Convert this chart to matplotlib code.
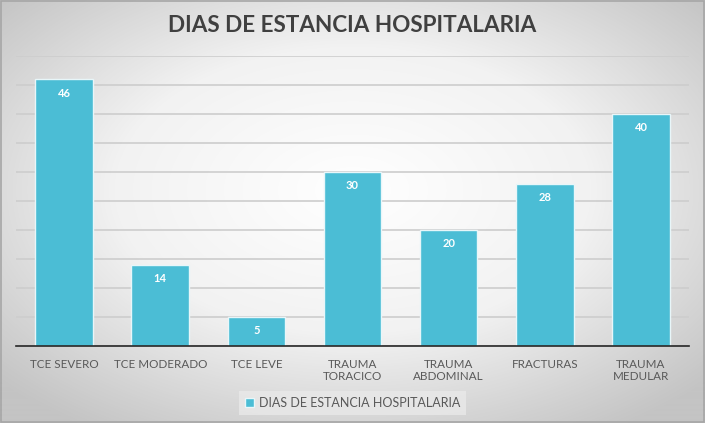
import numpy as np
import matplotlib
matplotlib.use("Agg")
import matplotlib.pyplot as plt
from matplotlib.colors import LinearSegmentedColormap
from matplotlib.patches import Rectangle

categories = ["TCE SEVERO", "TCE MODERADO", "TCE LEVE", "TRAUMA\nTORACICO",
              "TRAUMA\nABDOMINAL", "FRACTURAS", "TRAUMA\nMEDULAR"]
values = [46, 14, 5, 30, 20, 28, 40]
series_name = "DIAS DE ESTANCIA HOSPITALARIA"
title = "DIAS DE ESTANCIA HOSPITALARIA"

W, H = 705, 423
fig = plt.figure(figsize=(W / 100, H / 100), dpi=100)

# radial gradient background
bg = fig.add_axes([0, 0, 1, 1], zorder=-10)
yy, xx = np.mgrid[0:H, 0:W]
d = np.sqrt(((xx - W / 2) / (W / 2)) ** 2 + ((yy - H * 0.45) / (H / 2)) ** 2)
d = np.clip(d / 1.35, 0, 1)
cmap = LinearSegmentedColormap.from_list("g", ["#ffffff", "#f2f2f2", "#c4c4c4"])
bg.imshow(d, cmap=cmap, aspect="auto", extent=[0, 1, 0, 1], origin="upper")
bg.add_patch(Rectangle((0.001, 0.002), 0.997, 0.995, transform=bg.transAxes,
                       fill=False, edgecolor="#a6a6a6", lw=1.2))
bg.set_xlim(0, 1); bg.set_ylim(0, 1)
bg.axis("off")

ax = fig.add_axes([16 / W, 1 - 346 / H, (689 - 16) / W, (346 - 56) / H])
ax.patch.set_alpha(0)
x = np.arange(len(categories))
bars = ax.bar(x, values, width=0.6, color="#4bbdd5", edgecolor="#e8f6f9",
              linewidth=1.0, zorder=3)
ax.set_xlim(-0.5, len(categories) - 0.5)
ax.set_ylim(0, 50)
ax.set_yticks(np.arange(0, 51, 5))
ax.yaxis.grid(True, color="#cdcdcd", lw=1.2, zorder=0)
ax.tick_params(axis="y", length=0, labelleft=False)
ax.tick_params(axis="x", length=0, pad=9)
ax.set_xticks(x)
ax.set_xticklabels(categories, fontsize=8.4, color="#595959", family="Lato",
                   linespacing=1.2)
for s in ["left", "right", "top"]:
    ax.spines[s].set_visible(False)
ax.spines["bottom"].set_color("#262626")
ax.spines["bottom"].set_linewidth(1.2)
ax.spines["bottom"].set_zorder(4)

for xi, v in zip(x, values):
    ax.annotate(str(v), (xi, v), xytext=(0, -10), textcoords="offset points",
                ha="center", va="center", color="white", fontsize=8,
                fontweight="bold", family="Lato", zorder=5)

fig.text(0.5, 1 - 25 / H, title, ha="center", va="center", fontsize=16.2,
         fontweight="bold", color="#404040", family="Lato")

leg = ax.legend([bars[0]], [series_name], loc="center",
                bbox_to_anchor=(0.5, (346 - 403) / (346 - 56)),
                frameon=True, fancybox=False,
                handlelength=0.7, handleheight=0.7, handletextpad=0.4,
                borderpad=0.5, prop={"family": "Lato", "size": 9})
leg.get_frame().set_facecolor("#e9e9e9")
leg.get_frame().set_edgecolor("none")
for t in leg.get_texts():
    t.set_color("#595959")

fig.savefig("out.png", dpi=100)
